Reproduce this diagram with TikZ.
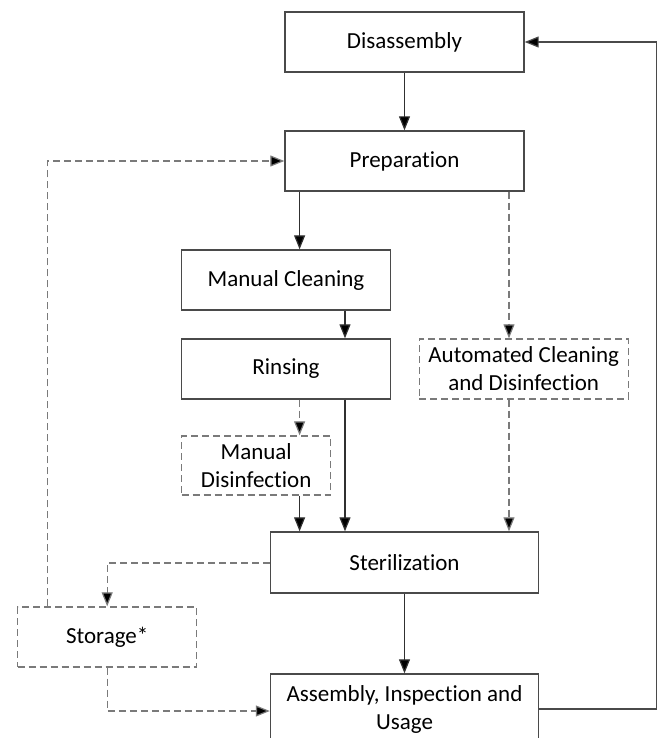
\documentclass[tikz,border=0pt]{standalone}
\usepackage{fontspec}
\setmainfont{Carlito}[Ligatures=NoCommon]
\usetikzlibrary{arrows.meta,calc}
\definecolor{boxline}{HTML}{4A4A4A}
\definecolor{dashline}{HTML}{7A7A7A}
\definecolor{conn}{HTML}{303030}
\tikzset{
  stepbox/.style={draw=boxline, line width=1.4pt, fill=white, align=center,
    inner sep=2pt, font=\fontsize{23}{28}\selectfont},
  optbox/.style={stepbox, draw=dashline, dash pattern=on 7pt off 4pt},
  tip/.style={-{Triangle[length=14pt,width=11pt,fill=black]}},
  flow/.style={draw=conn, line width=1.2pt, tip},
  optflow/.style={draw=dashline, line width=1.2pt, dash pattern=on 7pt off 4pt, tip},
  backline/.style={draw=boxline, line width=1.2pt, tip}
}
\begin{document}
\begin{tikzpicture}[x=1pt,y=-1pt]
\useasboundingbox (0,0) rectangle (658,738);
\node[stepbox, minimum width=239pt, minimum height=60pt] (dis) at (404.5,42) {Disassembly};
\node[stepbox, minimum width=239pt, minimum height=60pt] (prep) at (404.5,161) {Preparation};
\node[stepbox, minimum width=209pt, minimum height=60pt] (mc) at (286,280) {Manual Cleaning};
\node[stepbox, minimum width=209pt, minimum height=60pt] (rin) at (286,369) {Rinsing};
\node[optbox, minimum width=209pt, minimum height=60pt] (auto) at (523.7,369) {Automated Cleaning\\and Disinfection};
\node[optbox, minimum width=149pt, minimum height=59pt] (md) at (256.2,465.5) {Manual\\Disinfection};
\node[stepbox, minimum width=268pt, minimum height=61pt] (ster) at (404.5,562.5) {Sterilization};
\node[optbox, minimum width=179pt, minimum height=60pt] (stor) at (107.2,637) {Storage*};
\node[stepbox, minimum width=268pt, minimum height=68pt, text depth=0pt] (asm) at (404.5,708) {Assembly, Inspection and\\Usage};

\coordinate (xa) at (299.6,0);
\coordinate (xb) at (345,0);
\coordinate (xc) at (509,0);
\coordinate (xl) at (47.4,0);
\coordinate (xr) at (656.3,0);

\draw[flow] (dis) -- (prep);
\draw[flow] (prep.south -| xa) -- (mc.north -| xa);
\draw[optflow] (prep.south -| xc) -- (auto.north -| xc);
\draw[flow] (mc.south -| xb) -- (rin.north -| xb);
\draw[optflow] (rin.south -| xa) -- (md.north -| xa);
\draw[flow] (rin.south -| xb) -- (ster.north -| xb);
\draw[flow] (md.south -| xa) -- (ster.north -| xa);
\draw[optflow] (auto.south -| xc) -- (ster.north -| xc);
\draw[optflow] ($(ster.west)+(0,0.5)$) -| (stor.north);
\draw[optflow] (stor.north -| xl) |- (prep.west);
\draw[optflow] (stor.south) |- ($(asm.west)+(0,3)$);
\draw[flow] (ster) -- (asm);
\draw[backline] ($(asm.east)+(0,1)$) -- ($(asm.east -| xr)+(0,1)$) -- (dis.east -| xr) -- (dis.east);
\end{tikzpicture}
\end{document}
